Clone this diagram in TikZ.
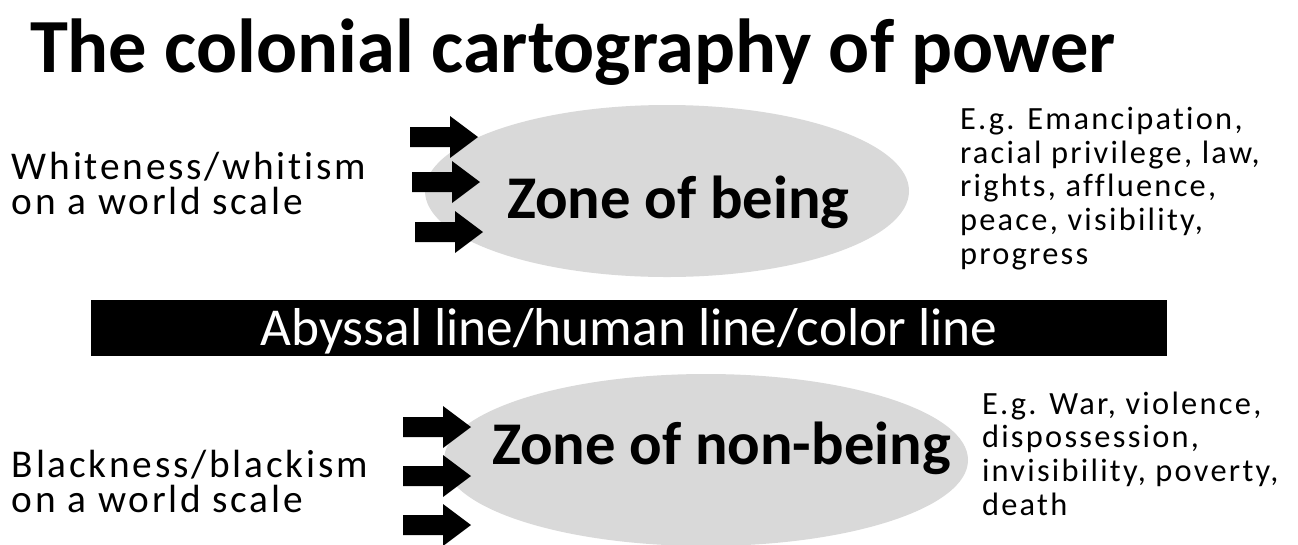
\documentclass[tikz,border=0pt]{standalone}
\usepackage{fontspec}
\setmainfont{Carlito}
\newfontfamily\spaced[LetterSpace=7,Ligatures=NoCommon]{Carlito}
\definecolor{zonegray}{HTML}{D9D9D9}
\tikzset{
  plain/.style={inner sep=0pt, outer sep=0pt, anchor=base west, align=left},
  sidetext/.style={plain, font=\spaced\fontsize{29.5}{26.25}\selectfont},
  listtext/.style={plain, font=\spaced\fontsize{24.3}{25.2}\selectfont},
  zonetext/.style={plain, font=\bfseries\fontsize{45.5}{50}\selectfont},
  zone/.style={fill=zonegray},
}
\newcommand{\blockarrow}[2]{%
  \fill[black] (#1,#2-10) -- (#1+40,#2-10) -- (#1+40,#2-21) -- (#1+68,#2)
    -- (#1+40,#2+21) -- (#1+40,#2+10) -- (#1,#2+10) -- cycle;}
\begin{document}
\begin{tikzpicture}[x=0.75pt,y=-0.75pt]
\useasboundingbox[fill=white] (0,0) rectangle (1298,544);
\begin{scope}
\clip (0,0) rectangle (1298,544);
% title
\node[plain, font=\bfseries\fontsize{57.4}{60}\selectfont] (title) at (30,72) {The colonial cartography of power};
% zones
\fill[zone] (667,191) ellipse [x radius=242, y radius=86];
\coordinate (being) at (667,191);
\fill[zone] (706,460) ellipse [x radius=262, y radius=86];
\coordinate (nonbeing) at (706,460);
\node[zonetext] (beingtext) at (507,218) {Zone of being};
\node[zonetext] (nonbeingtext) at (492,464) {Zone of non-being};
% arrows
\blockarrow{410}{137}
\blockarrow{412}{182}
\blockarrow{415}{232}
\blockarrow{403}{427}
\blockarrow{403}{476}
\blockarrow{403}{525}
% bar
\node[fill=black, minimum width=807pt, minimum height=42pt, inner sep=0pt] (bar) at (629,328) {};
\node[inner sep=0pt, anchor=base, text=white, font=\fontsize{40}{44}\selectfont] (bartext) at (629,345) {Abyssal line/human line/color line};
% side texts (anchor = baseline of the last line)
\node[sidetext] (white) at (12,214) {Whiteness/whitism\\on a world scale};
\node[sidetext] (black) at (12,512) {Blackness/blackism\\on a world scale};
\node[listtext] (privs) at (960,264) {E.g. Emancipation,\\racial privilege, law,\\rights, affluence,\\peace, visibility,\\progress};
\node[listtext] (harms) at (982,515) {E.g. War, violence,\\dispossession,\\invisibility, poverty,\\death};
\end{scope}
\end{tikzpicture}
\end{document}
